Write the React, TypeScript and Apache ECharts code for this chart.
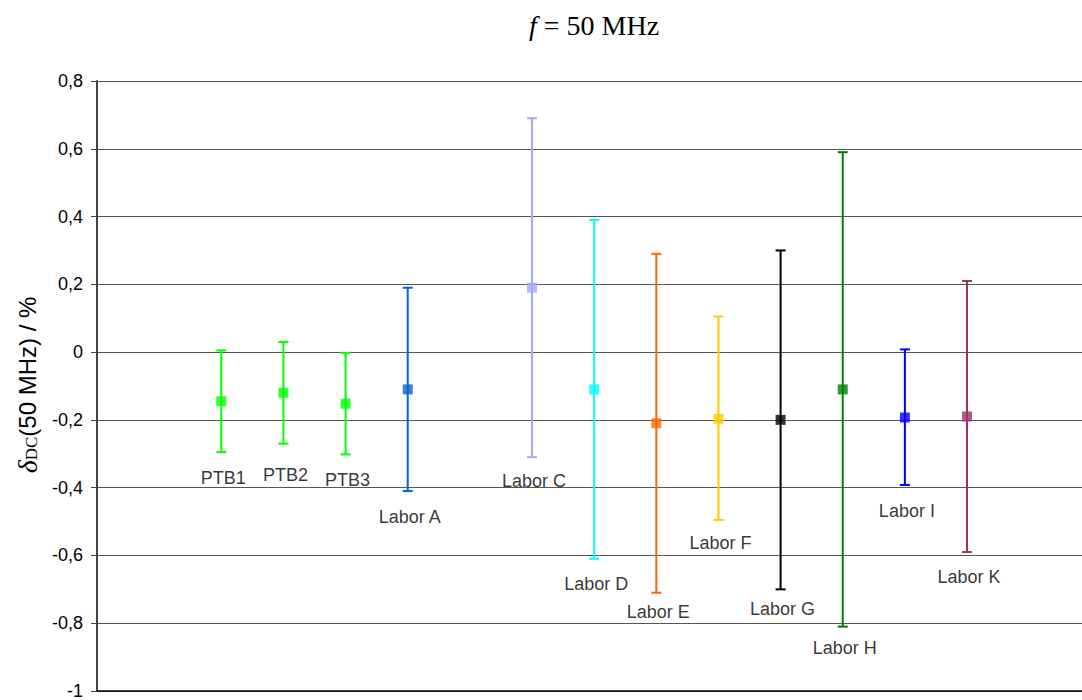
import React, { useEffect, useRef } from "react";
import * as echarts from "echarts";

const names = ["PTB1", "PTB2", "PTB3", "Labor A", "Labor C", "Labor D", "Labor E", "Labor F", "Labor G", "Labor H", "Labor I", "Labor K"];
const xPos = [2, 3, 4, 5, 7, 8, 9, 10, 11, 12, 13, 14];
const values = [-0.145, -0.12, -0.152, -0.11, 0.19, -0.11, -0.21, -0.197, -0.2, -0.11, -0.193, -0.19];
const upper = [0.005, 0.03, -0.002, 0.19, 0.69, 0.39, 0.29, 0.105, 0.3, 0.59, 0.008, 0.21];
const lower = [-0.295, -0.27, -0.302, -0.41, -0.31, -0.61, -0.71, -0.495, -0.7, -0.81, -0.392, -0.59];
const labelY = [-0.363, -0.354, -0.369, -0.477, -0.372, -0.676, -0.758, -0.553, -0.749, -0.863, -0.459, -0.656];
const colors = ["#00FF00", "#00FF00", "#00FF00", "#0066CC", "#A6A6FF", "#00FFFF", "#FF6600", "#FFCC00", "#000000", "#008000", "#0000FF", "#993366"];
const yTicks = { min: -1, max: 0.8, interval: 0.2 };
const xRange = { min: 0, max: 15.85 };

export default function App() {
  const ref = useRef<HTMLDivElement>(null);
  useEffect(() => {
    const chart = echarts.init(ref.current!, null, { renderer: "svg" });
    const fmt = (v: number) => String(Math.round(v * 10) / 10).replace(".", ",");
    chart.setOption({
      animation: false,
      backgroundColor: "#fff",
      grid: { left: 97, top: 81, right: 0, height: 615, containLabel: false },
      xAxis: {
        type: "value", min: xRange.min, max: xRange.max,
        axisLine: { show: true, onZero: false, lineStyle: { color: "#000", width: 1.5 } },
        axisTick: { show: false }, axisLabel: { show: false }, splitLine: { show: false },
      },
      yAxis: {
        type: "value", min: yTicks.min, max: yTicks.max, interval: yTicks.interval,
        axisLine: { show: true, lineStyle: { color: "#444", width: 2 } },
        axisTick: { show: true, length: 6, lineStyle: { color: "#444" } },
        axisLabel: { formatter: fmt, fontFamily: "Liberation Sans, Arial", fontSize: 18, color: "#000", margin: 14 },
        splitLine: { show: true, lineStyle: { color: "#555", width: 1 } },
      },
      graphic: [
        {
          type: "text", x: 594, y: 25,
          style: {
            text: "{i|f} = 50 MHz", align: "center", verticalAlign: "middle",
            fontFamily: "Liberation Serif", fontSize: 28, fill: "#000",
            rich: {
              i: { fontStyle: "italic", fontFamily: "Liberation Serif", fontSize: 28 },
            },
          },
        },
        {
          type: "text", x: 27, y: 385, rotation: Math.PI / 2,
          style: {
            text: "{d|δ}{s|DC}{n|(50 MHz) / %}", align: "center", verticalAlign: "middle", fill: "#000",
            rich: {
              d: { fontStyle: "italic", fontFamily: "Liberation Serif", fontSize: 28 },
              s: { fontFamily: "Liberation Serif", fontSize: 17, padding: [9, 0, 0, 0] },
              n: { fontFamily: "Liberation Sans, Arial", fontSize: 24 },
            },
          },
        },
      ],
      series: [
        {
          type: "custom",
          data: xPos.map((x, i) => [x, lower[i], upper[i], i]),
          renderItem: (params: any, api: any) => {
            const x = api.value(0);
            const lo = api.coord([x, api.value(1)]);
            const hi = api.coord([x, api.value(2)]);
            const c = colors[api.value(3)];
            const st = { stroke: c, lineWidth: 2 };
            return {
              type: "group",
              children: [
                { type: "line", shape: { x1: lo[0], y1: lo[1], x2: hi[0], y2: hi[1] }, style: st },
                { type: "line", shape: { x1: lo[0] - 5, y1: lo[1], x2: lo[0] + 5, y2: lo[1] }, style: st },
                { type: "line", shape: { x1: hi[0] - 5, y1: hi[1], x2: hi[0] + 5, y2: hi[1] }, style: st },
              ],
            };
          },
          z: 2,
        },
        {
          type: "scatter", symbol: "rect", symbolSize: 10, z: 3,
          data: xPos.map((x, i) => ({ value: [x, values[i]], itemStyle: { color: colors[i] } })),
        },
        {
          type: "scatter", symbolSize: 0, z: 4,
          data: xPos.map((x, i) => ({ value: [x, labelY[i]], name: names[i] })),
          label: {
            show: true, position: "inside", formatter: (p: any) => p.name,
            fontFamily: "Liberation Sans, Arial", fontSize: 18, color: "#000",
            offset: [2, 3],
          },
        },
      ],
    });
    return () => chart.dispose();
  }, []);
  return <div ref={ref} style={{ position: "absolute", left: 0, top: 0, width: 1082, height: 700 }} />;
}
